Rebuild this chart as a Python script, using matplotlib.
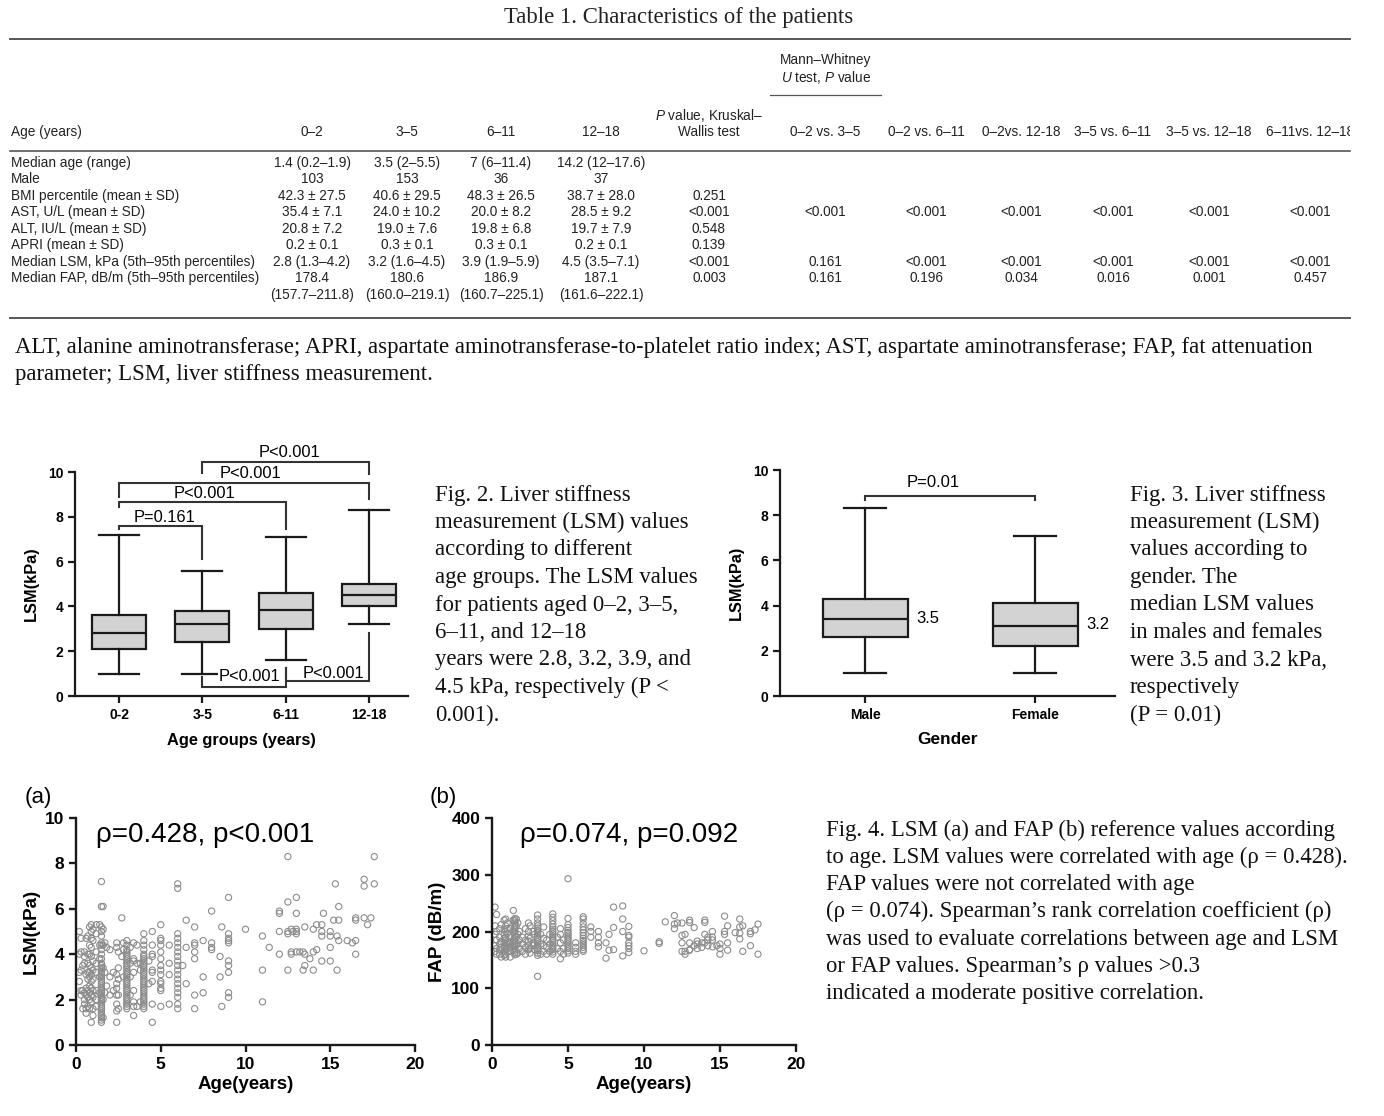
import matplotlib

matplotlib.use("Agg")
import matplotlib.pyplot as plt
from matplotlib.lines import Line2D
from matplotlib.transforms import Bbox, TransformedBbox

W, H = 1384, 1116

# ---- table data ----
TABLE_TITLE = "Table 1. Characteristics of the patients"
AGE_GROUPS = ["0–2", "3–5", "6–11", "12–18"]
ROW_LABELS = [
    "Median age (range)",
    "Male",
    "BMI percentile (mean ± SD)",
    "AST, U/L (mean ± SD)",
    "ALT, IU/L (mean ± SD)",
    "APRI (mean ± SD)",
    "Median LSM, kPa (5th–95th percentiles)",
    "Median FAP, dB/m (5th–95th percentiles)",
    "",
]
GROUP_CELLS = [
    ["1.4 (0.2–1.9)", "3.5 (2–5.5)", "7 (6–11.4)", "14.2 (12–17.6)"],
    ["103", "153", "36", "37"],
    ["42.3 ± 27.5", "40.6 ± 29.5", "48.3 ± 26.5", "38.7 ± 28.0"],
    ["35.4 ± 7.1", "24.0 ± 10.2", "20.0 ± 8.2", "28.5 ± 9.2"],
    ["20.8 ± 7.2", "19.0 ± 7.6", "19.8 ± 6.8", "19.7 ± 7.9"],
    ["0.2 ± 0.1", "0.3 ± 0.1", "0.3 ± 0.1", "0.2 ± 0.1"],
    ["2.8 (1.3–4.2)", "3.2 (1.6–4.5)", "3.9 (1.9–5.9)", "4.5 (3.5–7.1)"],
    ["178.4", "180.6", "186.9", "187.1"],
    ["(157.7–211.8)", "(160.0–219.1)", "(160.7–225.1)", "(161.6–222.1)"],
]
KW_P = ["", "", "0.251", "<0.001", "0.548", "0.139", "<0.001", "0.003", ""]
MW_HEADERS = ["0–2 vs. 3–5", "0–2 vs. 6–11", "0–2vs. 12-18", "3–5 vs. 6–11", "3–5 vs. 12–18", "6–11vs. 12–18"]
MW_AST = ["<0.001", "<0.001", "<0.001", "<0.001", "<0.001", "<0.001"]
MW_LSM = ["0.161", "<0.001", "<0.001", "<0.001", "<0.001", "<0.001"]
MW_FAP = ["0.161", "0.196", "0.034", "0.016", "0.001", "0.457"]
FOOTNOTE = [
    "ALT, alanine aminotransferase; APRI, aspartate aminotransferase-to-platelet ratio index; AST, aspartate aminotransferase; FAP, fat attenuation",
    "parameter; LSM, liver stiffness measurement.",
]

# ---- Fig. 2 box data (LSM by age group) ----
FIG2_GROUPS = ["0-2", "3-5", "6-11", "12-18"]
FIG2_WHISLO = [1.0, 1.0, 1.6, 3.2]
FIG2_Q1 = [2.1, 2.4, 3.0, 4.0]
FIG2_MED = [2.8, 3.2, 3.85, 4.5]
FIG2_Q3 = [3.6, 3.8, 4.6, 5.0]
FIG2_WHISHI = [7.2, 5.6, 7.1, 8.3]
FIG2_CAPTION = [
    "Fig. 2. Liver stiffness",
    "measurement (LSM) values",
    "according to different",
    "age groups. The LSM values",
    "for patients aged 0–2, 3–5,",
    "6–11, and 12–18",
    "years were 2.8, 3.2, 3.9, and",
    "4.5 kPa, respectively (P <",
    "0.001).",
]

# ---- Fig. 3 box data (LSM by gender) ----
FIG3_GROUPS = ["Male", "Female"]
FIG3_WHISLO = [1.0, 1.0]
FIG3_Q1 = [2.6, 2.2]
FIG3_MED = [3.4, 3.1]
FIG3_Q3 = [4.3, 4.1]
FIG3_WHISHI = [8.3, 7.1]
FIG3_LABELS = ["3.5", "3.2"]
FIG3_CAPTION = [
    "Fig. 3. Liver stiffness",
    "measurement (LSM)",
    "values according to",
    "gender. The",
    "median LSM values",
    "in males and females",
    "were 3.5 and 3.2 kPa,",
    "respectively",
    "(P = 0.01)",
]

# ---- Fig. 4 scatter data: (age, values at that age) ----
LSM_BY_AGE = [
    (0.2, [5.0, 4.0, 3.2, 2.8]),
    (0.3, [4.7, 4.1, 3.3, 2.4, 2.2]),
    (0.4, [3.5, 2.4, 1.6]),
    (0.5, [4.1, 3.9, 3.6, 2.3, 2.0, 1.8]),
    (0.6, [4.7, 3.1, 2.5, 2.2, 1.6, 1.4]),
    (0.7, [4.8, 4.0, 3.6, 3.2, 2.9, 2.4, 2.1, 1.7]),
    (0.8, [5.2, 4.4, 4.0, 3.5, 3.2, 3.0, 2.6, 2.3, 2.0, 1.6]),
    (0.9, [5.3, 5.0, 4.7, 4.3, 3.9, 3.4, 3.1, 2.8, 2.5, 2.2, 1.9, 1.0]),
    (1.0, [5.1, 4.6, 3.7, 3.3, 2.9, 2.4, 2.1, 1.6, 1.3]),
    (1.2, [5.3, 4.9, 4.1, 3.6, 3.2, 2.4, 2.0, 1.7]),
    (1.4, [5.3, 4.4, 3.8, 3.0, 2.3]),
    (1.5, [7.2, 6.1, 5.2, 5.0, 4.8, 4.5, 4.4, 4.2, 4.0, 3.8, 3.6, 3.5, 3.4, 3.3, 3.2, 3.1, 3.0,
           2.9, 2.8, 2.7, 2.6, 2.5, 2.4, 2.3, 2.2, 2.1, 2.0, 1.9, 1.8, 1.7, 1.6, 1.5, 1.4, 1.3,
           1.2, 1.1, 1.0]),
    (1.6, [6.1, 5.1, 4.4, 3.4, 2.0, 1.2]),
    (1.7, [4.5, 3.2, 2.3]),
    (1.8, [4.3, 2.6]),
    (2.0, [4.2, 3.0, 2.2]),
    (2.2, [3.2, 2.4]),
    (2.4, [4.5, 4.3, 3.1, 2.7, 2.5, 2.2, 1.8, 1.5, 1.0]),
    (2.5, [4.1, 3.4, 2.9, 2.2, 1.6]),
    (2.7, [5.6, 3.9]),
    (2.8, [4.5, 4.2, 3.0]),
    (3.0, [4.6, 4.4, 4.2, 4.1, 4.0, 3.9, 3.8, 3.7, 3.6, 3.5, 3.4, 3.3, 3.2, 3.1, 3.0, 2.9, 2.8,
           2.7, 2.6, 2.5, 2.4, 2.3, 2.2, 2.1, 2.0, 1.9, 1.8, 1.7, 1.6]),
    (3.2, [4.3, 3.6, 3.0, 2.2]),
    (3.4, [4.5, 3.8, 3.7, 3.2, 2.4, 1.9, 1.7, 1.3]),
    (3.6, [4.4, 3.6, 1.7]),
    (3.8, [3.6, 3.3, 1.9]),
    (4.0, [4.9, 4.6, 4.4, 4.2, 4.0, 3.9, 3.8, 3.7, 3.6, 3.5, 3.4, 3.3, 3.2, 3.1, 3.0, 2.9, 2.8,
           2.7, 2.6, 2.5, 2.4, 2.3, 2.2, 2.1, 2.0, 1.9, 1.8, 1.7, 1.6]),
    (4.3, [3.7, 2.7]),
    (4.5, [5.0, 4.4, 4.0, 3.9, 3.3, 3.2, 2.8, 1.8, 1.0]),
    (5.0, [5.3, 4.7, 4.6, 4.4, 4.1, 3.8, 3.5, 3.3, 3.1, 2.8, 2.7, 2.5, 2.4, 1.7]),
    (5.5, [4.4, 3.6, 3.1, 1.8]),
    (6.0, [7.1, 6.9, 4.9, 4.7, 4.5, 4.3, 4.1, 3.9, 3.7, 3.5, 3.3, 3.1, 2.9, 2.7, 2.5, 2.3, 2.1,
           1.8, 1.6]),
    (6.3, [3.5]),
    (6.5, [5.5, 4.3, 2.7]),
    (7.0, [5.2, 4.5, 4.4, 4.1, 3.8, 2.2, 1.6]),
    (7.5, [4.6, 3.0, 2.3]),
    (8.0, [5.9, 4.5, 4.3, 4.2]),
    (8.5, [3.9, 3.0]),
    (8.6, [5.2, 1.7]),
    (9.0, [6.5, 4.9, 4.7, 4.6, 4.5, 3.7, 3.5, 3.2, 2.3, 2.1]),
    (10.0, [5.1]),
    (11.0, [4.8, 3.3, 1.9]),
    (11.4, [4.3]),
    (12.0, [5.9, 5.8, 5.0, 4.0]),
    (12.5, [8.3, 6.3, 5.0, 4.9, 3.3]),
    (12.7, [5.1, 4.1, 4.0]),
    (12.8, [5.0]),
    (13.0, [6.5, 5.8, 5.1, 5.0, 4.9, 4.1]),
    (13.2, [4.1]),
    (13.4, [4.1, 3.3]),
    (13.5, [5.2, 4.0, 3.5]),
    (13.8, [3.8]),
    (14.0, [5.1, 4.1, 3.3]),
    (14.2, [5.3, 4.2]),
    (14.5, [5.3, 5.0, 4.8, 3.7]),
    (14.6, [5.8]),
    (15.0, [5.0, 4.8, 4.3, 3.7]),
    (15.2, [5.5]),
    (15.3, [7.1]),
    (15.4, [4.8, 3.3]),
    (15.5, [6.1, 5.5, 4.6]),
    (16.0, [4.6]),
    (16.3, [4.5]),
    (16.5, [5.6, 5.5, 4.6, 4.0]),
    (17.0, [7.3, 7.0, 5.6]),
    (17.2, [5.3]),
    (17.4, [5.6]),
    (17.6, [8.3, 7.1]),
]
FAP_BY_AGE = [
    (0.2, [243, 210, 195, 175, 165]),
    (0.3, [230, 200, 185, 170, 160]),
    (0.5, [205, 190, 178, 168, 160]),
    (0.6, [212, 182, 172, 155]),
    (0.8, [220, 203, 195, 188, 180, 172, 165, 158]),
    (0.9, [222, 210, 200, 190, 185, 175, 168, 160, 155]),
    (1.0, [215, 205, 196, 183, 177, 170, 163]),
    (1.2, [205, 190, 180, 172, 165, 155]),
    (1.4, [237, 220, 200, 185, 175]),
    (1.5, [223, 219, 215, 211, 207, 203, 199, 195, 191, 187, 183, 179, 175, 171, 167, 163, 159]),
    (1.6, [222, 210, 190, 176, 160]),
    (1.7, [215, 195, 178, 162]),
    (1.8, [200, 185, 170]),
    (2.0, [190, 178, 165]),
    (2.2, [205, 185, 172, 160]),
    (2.4, [215, 200, 192, 183, 175, 168]),
    (2.5, [210, 188, 170, 162]),
    (2.7, [200, 180, 175]),
    (2.8, [195, 178, 168]),
    (3.0, [229, 222, 215, 210, 206, 202, 198, 194, 190, 186, 182, 178, 174, 170, 166, 162, 158, 121]),
    (3.2, [195, 178, 160]),
    (3.4, [208, 188, 175, 165]),
    (3.6, [185, 172, 160]),
    (3.8, [195, 178, 165]),
    (4.0, [231, 225, 219, 213, 208, 204, 200, 196, 192, 188, 184, 180, 176, 172, 168, 164, 160]),
    (4.3, [190, 170]),
    (4.5, [205, 195, 180, 165, 152]),
    (4.7, [185, 170, 160]),
    (5.0, [293, 223, 212, 207, 202, 198, 194, 190, 186, 182, 178, 174, 170, 166, 162]),
    (5.5, [180, 172, 165, 160]),
    (6.0, [226, 222, 214, 208, 203, 198, 193, 188, 184, 180, 176, 172, 168, 165]),
    (6.5, [208, 200, 190]),
    (7.0, [200, 190, 180, 173]),
    (7.5, [180, 153]),
    (7.7, [195, 167]),
    (8.0, [243, 207, 168]),
    (8.6, [245, 222, 200, 157]),
    (9.0, [209, 193, 190, 180, 175, 170, 163]),
    (10.0, [166]),
    (11.0, [182, 179]),
    (11.4, [217]),
    (12.0, [228, 213, 205]),
    (12.2, [215]),
    (12.5, [215, 193, 180, 165]),
    (12.7, [195, 165, 160]),
    (13.0, [220, 216, 180, 168, 167]),
    (13.3, [207, 175]),
    (13.5, [183, 178, 170]),
    (13.8, [180, 172]),
    (14.0, [220, 216, 195, 180]),
    (14.2, [190, 185, 175]),
    (14.5, [200, 190, 185, 173]),
    (14.8, [175]),
    (15.0, [178, 170, 160]),
    (15.3, [227, 200, 195]),
    (15.5, [210, 180, 167]),
    (16.0, [198]),
    (16.3, [222, 208, 197, 187]),
    (16.5, [210, 165]),
    (17.0, [200, 196, 175]),
    (17.3, [203]),
    (17.5, [213, 160]),
]
FIG4_CAPTION = [
    "Fig. 4. LSM (a) and FAP (b) reference values according",
    "to age. LSM values were correlated with age (ρ = 0.428).",
    "FAP values were not correlated with age",
    "(ρ = 0.074). Spearman’s rank correlation coefficient (ρ)",
    "was used to evaluate correlations between age and LSM",
    "or FAP values. Spearman’s ρ values >0.3",
    "indicated a moderate positive correlation.",
]

SANS = ["Liberation Sans", "DejaVu Sans"]
SERIF = ["Liberation Serif", "DejaVu Serif"]
plt.rcParams["font.family"] = SANS
plt.rcParams["mathtext.fontset"] = "custom"
plt.rcParams["mathtext.rm"] = "Liberation Sans"
plt.rcParams["mathtext.it"] = "Liberation Sans:italic"

fig = plt.figure(figsize=(W / 100, H / 100), dpi=100)


def fx(x):
    return x / W


def fy(y):
    return 1 - y / H


def text(x, y, s, **kw):
    kw.setdefault("va", "center")
    return fig.text(fx(x), fy(y), s, **kw)


def hline(x0, x1, y, lw=1.0, color="#555555"):
    fig.add_artist(Line2D([fx(x0), fx(x1)], [fy(y), fy(y)], transform=fig.transFigure, color=color, lw=lw))


def add_axes_px(left, top, right, bottom):
    return fig.add_axes([left / W, 1 - bottom / H, (right - left) / W, (bottom - top) / H])


SERIF_FS = 16.4
INK = "#111111"

# ---------------- Table ----------------
text(679, 17, TABLE_TITLE, ha="center", family=SERIF, fontsize=SERIF_FS, color="#222222")
hline(10, 1350, 39, lw=1.4)
TFS = 9.8
TCOL = "#222222"
group_x = [312, 407, 501, 601]
kw_x = 709
mw_x = [825, 926, 1021, 1113, 1209, 1310]
clip = TransformedBbox(Bbox([[0, 0], [1350 / W, 1]]), fig.transFigure)

text(826, 60, "Mann–Whitney", ha="center", fontsize=TFS, color=TCOL)
text(826, 77, r"$\it{U}$ test, $\it{P}$ value", ha="center", fontsize=TFS, color=TCOL)
hline(770, 881, 95, lw=0.9)
text(709, 116, r"$\it{P}$ value, Kruskal–", ha="center", fontsize=TFS, color=TCOL)
text(709, 132, "Wallis test", ha="center", fontsize=TFS, color=TCOL)
text(11, 132, "Age (years)", ha="left", fontsize=TFS, color=TCOL)
for gx, g in zip(group_x, AGE_GROUPS):
    text(gx, 132, g, ha="center", fontsize=TFS, color=TCOL)
for mx, h in zip(mw_x, MW_HEADERS):
    t = text(mx, 132, h, ha="center", fontsize=TFS, color=TCOL)
    t.set_clip_box(clip)
    t.set_clip_on(True)
hline(10, 1350, 151, lw=1.2)

row_y = [163, 179, 196, 212, 229, 245, 262, 278, 295]
for i, ry in enumerate(row_y):
    text(11, ry, ROW_LABELS[i], ha="left", fontsize=TFS, color=TCOL)
    for gx, cell in zip(group_x, GROUP_CELLS[i]):
        text(gx, ry, cell, ha="center", fontsize=TFS, color=TCOL)
    text(kw_x, ry, KW_P[i], ha="center", fontsize=TFS, color=TCOL)
for ry, vals in zip([row_y[3], row_y[6], row_y[7]], [MW_AST, MW_LSM, MW_FAP]):
    for mx, v in zip(mw_x, vals):
        text(mx, ry, v, ha="center", fontsize=TFS, color=TCOL)
hline(10, 1350, 318, lw=1.4)

for k, line in enumerate(FOOTNOTE):
    text(15, 347 + 28 * k, line, ha="left", family=SERIF, fontsize=SERIF_FS, color=INK)


def style_axes(ax, lw=1.6, tick_fs=9, tick_len=5):
    for side in ("top", "right"):
        ax.spines[side].set_visible(False)
    for side in ("left", "bottom"):
        ax.spines[side].set_linewidth(lw)
        ax.spines[side].set_color("#1a1a1a")
    ax.tick_params(width=lw, length=tick_len, labelsize=tick_fs, color="#1a1a1a", direction="out")
    for lab in ax.get_xticklabels() + ax.get_yticklabels():
        lab.set_fontweight("bold")


def box_stats(lo, q1, med, q3, hi):
    return [
        {"whislo": a, "q1": b, "med": c, "q3": d, "whishi": e, "fliers": []}
        for a, b, c, d, e in zip(lo, q1, med, q3, hi)
    ]


BOX_FACE = "#d3d3d3"
EDGE = "#1a1a1a"


def draw_boxes(ax, stats, width, capw, lw):
    ax.bxp(
        stats,
        positions=list(range(1, len(stats) + 1)),
        widths=width,
        capwidths=capw,
        patch_artist=True,
        showfliers=False,
        boxprops=dict(facecolor=BOX_FACE, edgecolor=EDGE, linewidth=lw),
        medianprops=dict(color=EDGE, linewidth=lw),
        whiskerprops=dict(color=EDGE, linewidth=lw),
        capprops=dict(color=EDGE, linewidth=lw),
    )


def bracket(ax, x1, x2, y, y1, y2, lw=1.5, color="#333333"):
    ax.plot([x1, x1, x2, x2], [y1, y, y, y2], color=color, lw=lw, clip_on=False,
            solid_joinstyle="miter")


# ---------------- Fig. 2 ----------------
ax2 = add_axes_px(75, 472, 408, 696)
draw_boxes(ax2, box_stats(FIG2_WHISLO, FIG2_Q1, FIG2_MED, FIG2_Q3, FIG2_WHISHI), 0.65, 0.48, 1.6)
ax2.set_xlim(0.47, 4.47)
ax2.set_ylim(0, 10)
ax2.set_yticks([0, 2, 4, 6, 8, 10])
ax2.set_xticks([1, 2, 3, 4])
ax2.set_xticklabels(FIG2_GROUPS)
style_axes(ax2, lw=1.6, tick_fs=10)
ax2.set_ylabel("LSM(kPa)", fontsize=11.8, fontweight="bold", labelpad=6)
ax2.set_xlabel("Age groups (years)", fontsize=11.8, fontweight="bold", labelpad=8)
bracket(ax2, 1, 2, 7.57, 7.44, 6.1)
bracket(ax2, 1, 3, 8.64, 8.42, 7.44)
bracket(ax2, 1, 4, 9.53, 8.87, 8.8)
bracket(ax2, 2, 4, 10.43, 9.94, 9.9)
bracket(ax2, 2, 3, 0.4, 0.85, 1.24)
bracket(ax2, 3, 4, 0.67, 1.24, 2.8)
pfs = 11.9
ax2.text(1.55, 7.97, "P=0.161", ha="center", va="center", fontsize=pfs, clip_on=False)
ax2.text(2.02, 9.04, "P<0.001", ha="center", va="center", fontsize=pfs, clip_on=False)
ax2.text(2.58, 9.94, "P<0.001", ha="center", va="center", fontsize=pfs, clip_on=False)
ax2.text(3.05, 10.87, "P<0.001", ha="center", va="center", fontsize=pfs, clip_on=False)
ax2.text(2.57, 0.88, "P<0.001", ha="center", va="center", fontsize=pfs, clip_on=False,
         bbox=dict(facecolor="white", edgecolor="none", pad=0.5))
ax2.text(3.58, 1.02, "P<0.001", ha="center", va="center", fontsize=pfs, clip_on=False)

for k, line in enumerate(FIG2_CAPTION):
    text(435, 495 + 27.5 * k, line, ha="left", family=SERIF, fontsize=SERIF_FS, color=INK)

# ---------------- Fig. 3 ----------------
ax3 = add_axes_px(780, 470, 1115, 696)
draw_boxes(ax3, box_stats(FIG3_WHISLO, FIG3_Q1, FIG3_MED, FIG3_Q3, FIG3_WHISHI), 0.5, 0.25, 1.6)
ax3.set_xlim(0.5, 2.47)
ax3.set_ylim(0, 10)
ax3.set_yticks([0, 2, 4, 6, 8, 10])
ax3.set_xticks([1, 2])
ax3.set_xticklabels(FIG3_GROUPS)
style_axes(ax3, lw=1.6, tick_fs=10)
ax3.set_ylabel("LSM(kPa)", fontsize=11.7, fontweight="bold", labelpad=6)
ax3.set_xlabel("Gender", fontsize=12.4, fontweight="bold", labelpad=7)
bracket(ax3, 1, 2, 8.85, 8.67, 8.67)
ax3.text(1.4, 9.45, "P=0.01", ha="center", va="center", fontsize=12)
for i, lab in enumerate(FIG3_LABELS):
    ax3.text(i + 1.3, FIG3_MED[i] + 0.05, lab, ha="left", va="center", fontsize=12)

for k, line in enumerate(FIG3_CAPTION):
    text(1130, 495 + 27.5 * k, line, ha="left", family=SERIF, fontsize=SERIF_FS, color=INK)


# ---------------- Fig. 4 ----------------
def flatten(groups):
    xs, ys = [], []
    for age, vals in groups:
        for v in vals:
            xs.append(age)
            ys.append(v)
    return xs, ys


MARK = dict(s=20, facecolors="none", edgecolors="#8c8c8c", linewidths=0.8)

ax4a = add_axes_px(76, 818, 415, 1045)
lx, ly = flatten(LSM_BY_AGE)
ax4a.scatter(lx, ly, **MARK)
ax4a.set_xlim(0, 20)
ax4a.set_ylim(0, 10)
ax4a.set_xticks([0, 5, 10, 15, 20])
ax4a.set_yticks([0, 2, 4, 6, 8, 10])
style_axes(ax4a, lw=1.7, tick_fs=12.5)
ax4a.set_ylabel("LSM(kPa)", fontsize=13.5, fontweight="bold", labelpad=4)
ax4a.set_xlabel("Age(years)", fontsize=13.5, fontweight="bold", labelpad=3)
ax4a.text(1.2, 9.25, "ρ=0.428, p<0.001", fontsize=20, va="center", ha="left")
text(25, 797, "(a)", ha="left", fontsize=16)

ax4b = add_axes_px(492, 818, 796, 1045)
fx_, fy_ = flatten(FAP_BY_AGE)
ax4b.scatter(fx_, fy_, **MARK)
ax4b.set_xlim(0, 20)
ax4b.set_ylim(0, 400)
ax4b.set_xticks([0, 5, 10, 15, 20])
ax4b.set_yticks([0, 100, 200, 300, 400])
style_axes(ax4b, lw=1.7, tick_fs=12.5)
ax4b.set_ylabel("FAP (dB/m)", fontsize=13.5, fontweight="bold", labelpad=4)
ax4b.set_xlabel("Age(years)", fontsize=13.5, fontweight="bold", labelpad=3)
ax4b.text(1.85, 370, "ρ=0.074, p=0.092", fontsize=20, va="center", ha="left")
text(430, 797, "(b)", ha="left", fontsize=16)

for k, line in enumerate(FIG4_CAPTION):
    text(826, 830 + 27.3 * k, line, ha="left", family=SERIF, fontsize=SERIF_FS, color=INK)

fig.savefig("out.png", dpi=100)
